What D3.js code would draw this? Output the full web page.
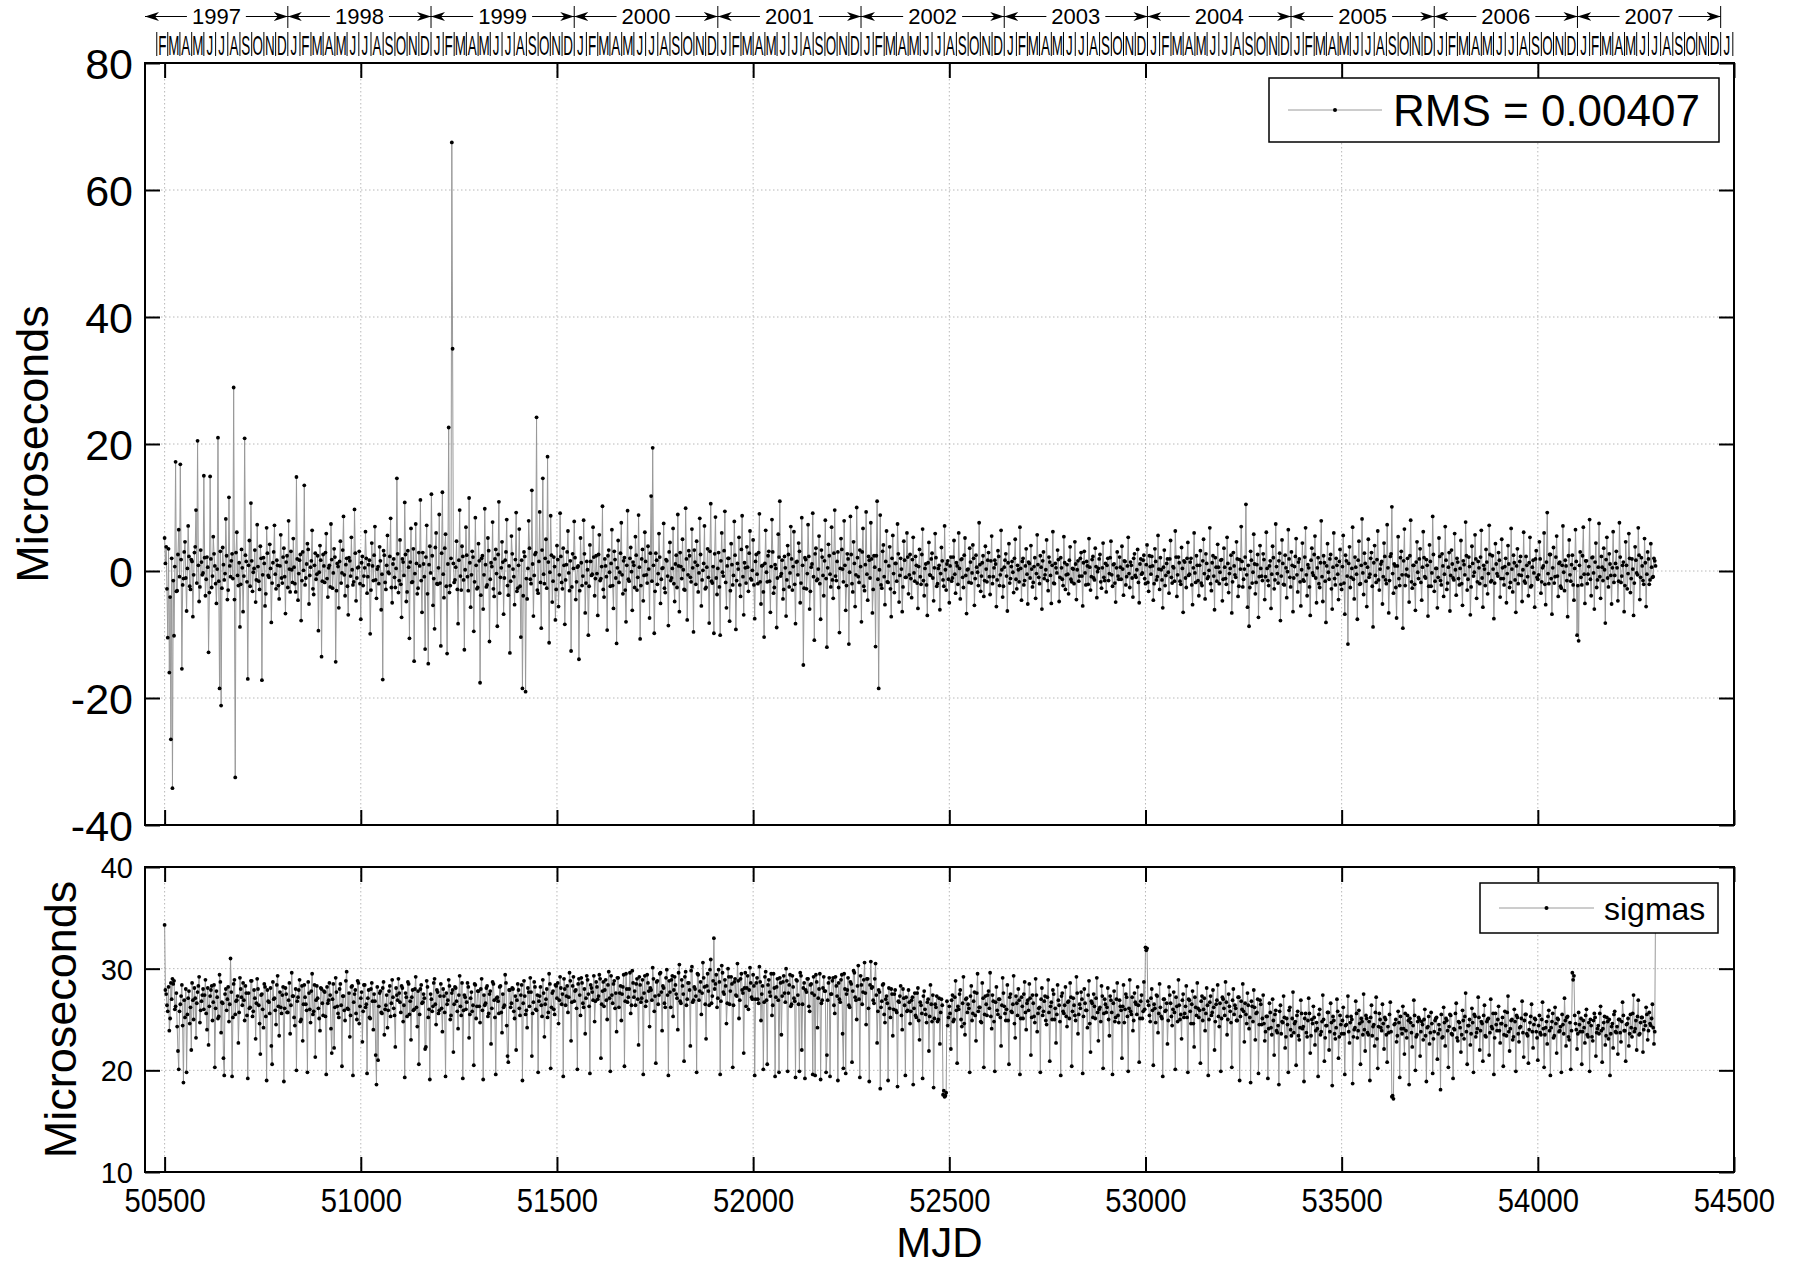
<!DOCTYPE html>
<html>
<head>
<meta charset="utf-8">
<script src="https://cdn.jsdelivr.net/npm/d3@7"></script>
<style>
  body { margin: 0; background: #fff; }
  svg { display: block; font-family: "Liberation Sans", Arial, sans-serif; }
</style>
</head>
<body>
<div id="chart"></div>
<script>
// Sampling of both series: one value every 2 days starting at MJD 50500
const mjdStart = 50500;
const mjdStep = 2;

// Timing residuals (microseconds), 50 values per 100 days
const residuals = [
  5.2,1.2,3.8,-2.8,-10.5,3.5,-16.0,-4.1,-26.5,2.0,-34.2,-1.5,-10.2,0.7,17.2,-3.2,-3.1,2.6,6.5,-0.9,16.8,1.8,-15.4,-2.2,-1.2,3.0,4.6,-1.1,-6.3,0.4,7.1,2.3,-2.4,-2.9,1.8,1.5,-7.2,-0.6,2.9,3.8,9.6,-1.9,20.5,0.9,-4.8,-2.5,3.3,1.4,-0.6,-0.3,
  15.0,2.1,-3.9,-1.3,2.2,0.6,-12.8,-3.4,14.9,1.9,-2.6,-0.8,5.4,2.7,0.8,-2.0,-5.1,0.3,21.0,-1.6,-18.5,3.1,-21.2,-2.7,3.7,1.0,-1.4,-0.4,8.2,2.4,-4.5,-3.0,11.6,0.8,-0.9,1.6,2.7,-1.2,28.9,-4.5,-32.5,2.9,6.1,-0.7,-2.3,1.3,-8.8,-2.1,3.4,0.5,
  -6.4,-0.8,20.9,2.5,1.5,-1.7,-17.0,0.9,4.8,-2.4,10.7,1.6,-3.2,-0.2,0.4,3.3,-4.9,-1.4,7.3,0.7,-1.6,-2.9,3.9,2.0,-17.2,-0.6,2.1,1.2,-5.5,-3.6,6.8,2.8,-0.7,-1.0,4.2,0.4,-8.1,-1.9,1.3,3.0,7.2,-0.5,-2.8,1.7,0.9,-2.3,-4.4,0.8,5.7,-1.1,
  -1.9,2.2,3.6,-0.9,-6.7,1.4,2.4,-2.6,7.9,0.3,-3.3,3.1,0.2,-1.8,5.1,0.6,-2.0,-3.3,14.8,1.9,-4.6,-0.4,1.7,2.6,-7.8,-1.5,3.0,0.1,13.5,-2.2,-1.1,1.1,4.3,3.4,-5.2,-0.7,0.6,1.6,6.4,-2.8,-3.7,0.9,2.8,-1.3,-0.5,2.4,-9.4,-0.2,4.0,1.7,
  -13.5,-1.6,2.6,0.8,-1.8,2.9,5.9,-1.2,-4.1,0.5,0.9,-2.5,7.4,1.8,-2.7,-0.3,3.5,2.2,-14.3,-3.1,1.2,0.7,-5.8,1.5,4.7,-1.9,-0.3,3.3,8.6,-0.6,-3.9,1.0,2.0,-2.4,-6.9,2.1,1.6,-0.8,5.3,0.2,-2.2,-1.7,9.7,2.8,-4.7,-1.1,0.5,0.6,3.1,-2.0,
  -7.6,1.3,2.3,-2.3,-0.8,0.5,6.2,2.0,-3.5,-0.9,1.0,1.7,-9.9,-3.0,4.4,0.8,-1.5,2.5,7.0,-1.4,-4.3,0.3,0.7,-2.0,3.8,1.6,-6.1,-0.5,-17.1,3.2,2.5,-1.8,-2.9,0.9,5.6,-0.2,-0.4,2.3,8.3,-2.6,-5.0,1.1,1.9,-1.0,-2.6,0.4,14.6,2.7,-3.4,-1.5,
  4.9,-2.1,-7.3,1.9,1.4,-0.7,10.8,2.6,-4.8,-3.3,3.2,0.6,-10.6,1.4,6.7,-1.8,-1.7,3.5,-14.2,-0.4,7.4,1.2,-3.6,-2.7,2.9,0.8,11.2,-1.5,-6.5,2.9,1.1,-0.9,-12.3,2.2,7.2,-3.6,-14.6,1.0,3.9,-0.3,12.1,2.4,-5.4,-1.2,-9.1,3.7,6.0,-2.0,-2.1,0.5,
  8.9,-1.9,-11.8,2.8,12.4,-0.5,-4.2,3.6,5.8,-2.4,-13.0,1.1,22.6,-3.4,-2.3,2.0,67.5,35.0,1.2,-1.8,-1.4,0.6,4.7,-2.9,-8.3,1.7,9.6,-0.8,-3.0,3.9,2.3,-1.4,-12.4,0.2,6.9,2.5,-0.9,-3.1,11.5,1.3,-5.7,-0.6,3.1,2.2,-9.5,-1.7,8.4,0.9,-2.8,-2.6,
  4.3,1.6,-17.6,-3.8,2.0,2.4,-6.0,-0.6,9.8,1.0,-2.5,-2.2,5.2,3.2,-11.1,-1.3,1.3,0.7,7.7,-2.8,-4.0,1.9,3.4,-0.4,-8.7,2.6,10.9,-3.5,-1.0,0.5,4.6,1.4,-6.8,-1.1,1.7,3.0,8.1,-2.3,-3.8,0.8,-12.9,-1.6,5.5,2.7,0.3,-0.9,-5.3,1.8,9.2,-3.2,
  -2.7,0.9,6.6,-2.4,-10.4,1.7,-18.5,-3.9,3.0,2.3,-19.0,-1.2,-4.4,0.4,7.9,3.6,-1.3,-2.0,12.7,1.1,-7.1,-0.7,2.6,2.9,24.2,-3.0,-3.5,1.5,9.3,-1.8,-9.0,3.3,14.6,-0.5,-2.0,2.0,5.0,-2.7,18.0,1.4,-11.3,-0.2,8.7,2.5,-4.9,-1.6,2.2,0.7,-7.7,-2.9,
  4.0,1.8,-5.6,-0.6,9.1,2.3,-1.8,-2.8,3.6,0.9,-8.4,-1.4,1.0,3.0,6.3,-0.3,-3.1,1.6,-12.6,-2.5,2.7,0.4,7.8,2.1,-4.5,-1.7,0.6,0.8,-13.9,-3.1,5.2,1.3,-2.3,-0.8,8.0,2.7,-6.6,-1.9,1.5,0.2,-10.1,-2.4,4.1,1.5,-0.7,-0.5,6.9,2.2,-3.9,-1.2,
  2.4,-0.4,-7.0,2.6,5.7,-1.5,-1.2,0.7,10.2,-2.9,-4.1,1.9,0.8,-0.9,-9.3,2.4,3.3,-0.2,-2.4,1.2,6.5,-2.3,-5.9,3.1,1.8,-1.1,-11.4,0.5,4.8,-1.8,-0.2,2.8,7.6,-0.6,-3.6,1.6,2.1,-3.0,-8.0,0.9,9.5,-1.3,-1.6,2.0,3.7,-0.1,-6.2,1.4,0.9,-2.6,
  5.4,2.5,-3.0,-1.0,8.8,0.6,-10.7,-2.3,1.9,3.4,-4.7,-0.7,6.1,1.5,-0.6,-1.9,3.9,0.3,-7.4,2.8,11.8,-1.6,19.4,0.9,-9.8,-3.2,2.8,1.7,-2.1,-0.4,5.9,2.2,-5.1,-1.3,0.4,0.5,7.5,-2.7,-3.4,1.8,1.6,-0.8,-8.6,3.0,4.5,-1.5,-1.1,0.4,6.7,-2.0,
  -4.8,1.1,2.5,-2.6,8.9,0.8,-6.4,2.9,0.7,-1.2,5.0,0.2,-2.9,-3.0,9.9,1.9,-7.7,-0.6,3.2,2.4,-1.0,-1.7,6.6,0.5,-9.6,3.3,1.4,-2.1,4.7,0.9,-3.3,-0.3,8.3,2.6,-5.5,-1.4,0.1,1.2,7.1,-2.8,-2.6,0.6,3.5,-1.0,-8.2,3.1,10.6,-1.6,-1.9,0.7,
  -9.8,2.7,8.5,-1.1,-3.7,0.4,2.9,-2.5,-10.1,1.6,6.0,-0.2,-0.8,3.2,9.4,-1.8,-5.8,0.8,2.0,2.0,-7.9,-3.1,4.3,1.0,-2.2,-0.7,7.8,2.5,-9.2,-1.5,1.2,0.3,5.3,-2.2,-4.0,3.4,8.7,-0.9,-6.9,1.3,0.5,-1.9,3.8,0.6,-3.2,2.8,6.3,-1.2,-1.4,0.1,
  4.9,-2.2,-7.5,1.5,2.6,-0.5,-2.0,2.9,9.0,-1.7,-5.2,0.8,0.9,-3.3,-10.4,1.2,6.4,-0.2,-1.7,2.4,3.1,-1.6,-6.5,0.7,8.1,3.0,-3.5,-2.6,1.0,0.4,-8.9,-1.1,5.8,2.2,11.0,-0.8,-0.4,1.7,-4.4,-2.9,2.3,0.5,-7.1,-1.4,4.0,2.6,-2.5,-0.3,7.0,1.9,
  -3.0,0.7,6.2,-2.1,-8.3,1.4,1.5,-0.6,4.4,3.1,-5.0,-1.9,8.4,0.9,-14.8,-2.7,2.1,1.8,-2.8,-0.4,7.3,2.3,-6.0,-3.2,0.6,1.1,9.1,-0.9,-10.9,2.7,3.6,-1.5,-1.3,0.3,5.5,-2.0,-7.6,3.3,2.2,-0.7,-3.9,1.6,8.0,-1.2,-12.0,0.5,4.2,2.4,-0.5,-2.5,
  6.9,-1.4,-4.3,2.8,9.6,-0.8,-1.5,1.5,3.0,-2.6,-9.7,0.4,5.1,3.4,0.3,-1.7,7.9,0.9,-6.2,-2.3,2.7,1.9,-11.5,-0.2,8.6,2.6,-2.0,-3.3,4.6,1.2,-5.6,-0.6,10.0,2.1,-0.9,-1.8,3.3,0.7,-8.0,3.0,6.7,-2.4,-3.1,1.0,9.3,-0.5,-4.6,2.3,1.7,-1.1,
  7.6,1.9,-6.6,-2.9,2.4,0.6,-11.9,2.4,11.0,-1.3,-18.5,0.2,8.8,-2.2,-2.7,3.1,4.1,-0.9,-5.3,1.5,6.3,-1.7,-1.8,0.8,3.8,-2.8,-7.2,2.0,5.6,-0.4,-3.4,1.2,1.2,-1.6,7.4,2.7,-4.9,-0.7,2.0,0.3,-6.4,-2.5,4.7,1.7,-1.0,-1.0,6.0,2.2,-3.6,-0.6,
  2.6,-1.2,-4.2,1.8,5.3,-0.3,-1.6,2.3,0.9,-1.9,-5.9,0.7,3.4,-0.9,-2.1,2.6,6.6,-1.5,-3.9,0.4,1.1,-2.2,-7.0,1.3,4.5,-0.6,-0.7,1.9,2.8,-1.1,-4.7,0.5,5.9,2.1,-2.4,-2.0,0.4,0.9,-6.1,-0.4,3.7,1.6,-1.4,-2.4,7.1,0.2,-3.0,1.1,1.6,-1.3,
  -5.0,0.8,2.2,-1.6,-1.1,2.2,4.8,-0.5,-3.5,1.3,0.8,-2.1,6.0,0.4,-4.4,1.8,1.9,-1.0,-2.6,2.5,5.2,-0.7,-6.7,0.2,0.3,-1.8,3.6,1.4,-1.9,-0.3,4.1,2.0,-5.4,-1.2,2.5,0.6,-0.2,-2.3,7.6,1.0,-3.2,-0.8,1.3,2.4,-4.0,-1.5,3.9,0.3,-1.7,1.7,
  2.9,-0.9,-3.7,1.6,5.5,-2.0,-0.9,0.5,1.7,1.1,-5.6,-1.4,3.2,2.3,-2.3,-0.6,6.4,0.2,-4.1,-2.4,0.6,1.7,2.7,-0.8,-6.3,1.3,4.3,-1.9,-1.2,0.7,1.5,-0.2,-3.4,2.0,5.0,-1.3,-2.8,0.9,0.2,-1.7,6.9,0.4,-4.6,1.5,2.0,-2.2,-1.5,0.8,3.5,-0.5,
  -5.2,1.4,1.2,-1.1,4.0,0.3,-2.5,-1.8,0.7,2.1,-4.3,-0.4,5.7,1.0,-1.0,-2.0,2.4,0.6,-6.0,1.6,3.0,-1.2,-0.6,0.2,4.9,-1.5,-3.1,2.2,1.4,-0.7,-5.1,0.9,6.2,-1.9,-2.0,1.2,0.5,-0.3,3.3,1.8,-4.8,-1.0,2.1,0.5,-1.3,-2.3,5.4,1.3,-2.9,-0.6,
  1.0,-0.5,-3.6,1.7,3.8,-1.3,-1.7,0.4,0.3,-2.0,4.6,1.1,-4.5,0.2,1.6,-1.6,-0.8,2.0,2.9,-0.8,-5.5,1.3,3.1,-0.3,-2.2,1.5,0.8,-2.1,5.1,0.6,-3.0,-0.9,1.8,2.3,-1.1,-1.4,3.6,0.7,-4.2,-0.1,0.4,1.9,2.6,-1.7,-2.7,0.5,4.4,-1.0,-1.5,1.2,
  -3.3,0.9,2.0,-1.5,-0.4,2.1,4.7,-0.6,-2.4,1.0,1.1,-1.9,-4.9,0.5,3.0,-0.8,-1.3,2.2,0.6,-1.3,3.9,0.3,-3.8,1.6,1.5,-2.2,-0.9,0.8,5.3,-0.4,-2.6,1.4,0.9,-1.1,-4.1,2.0,2.7,-0.7,-1.0,0.2,3.4,-1.8,-5.0,1.1,1.9,-0.5,-0.3,1.7,2.5,-1.2,
  -2.0,1.0,4.1,-1.8,-3.2,2.4,0.7,-0.5,2.3,0.8,-4.6,-2.0,3.5,1.5,-1.4,-0.9,5.6,0.3,-2.9,2.1,0.2,-1.4,-5.8,0.6,3.3,-2.3,-0.7,1.2,1.9,-0.2,-3.5,1.9,4.8,-1.0,-1.9,0.7,0.5,-1.6,6.3,2.2,-4.0,-0.6,2.2,1.3,-1.6,-2.1,3.7,0.4,-6.5,1.6,
  1.4,-1.1,-2.6,2.0,4.5,-0.7,-0.5,1.4,2.0,-2.2,-5.3,0.5,6.0,-0.3,-1.8,2.4,0.9,-1.5,-3.9,0.9,3.2,-1.9,-2.3,1.6,5.0,-0.4,-4.4,2.7,1.2,-1.2,-0.9,0.1,6.8,-2.0,-3.1,1.3,2.4,-0.8,-6.1,2.1,0.6,-1.6,4.2,0.6,-2.0,-0.2,1.7,1.8,-4.7,-1.3,
  3.6,0.6,-1.2,-2.1,5.3,1.2,-3.4,-0.4,0.4,2.5,-6.6,-1.7,2.9,0.8,-0.6,-1.0,4.6,1.9,-4.0,-2.4,1.8,0.3,7.0,1.5,-2.5,-1.3,0.3,2.2,10.5,-0.6,-5.7,0.9,-8.7,-2.6,3.1,1.7,-1.9,-0.2,5.8,1.1,-3.6,-1.8,1.0,2.6,-7.3,-0.9,4.0,0.4,-0.8,-1.5,
  2.7,1.8,-4.5,-0.9,6.1,0.4,-1.5,-2.3,0.8,1.6,-5.9,-0.5,3.9,2.1,-2.8,-1.4,7.4,0.7,-0.4,-1.9,1.6,2.8,-7.8,-0.8,4.9,1.2,-2.1,-2.2,2.5,0.5,-4.2,-0.1,6.5,1.9,-1.0,-2.5,3.0,0.9,-6.4,-1.1,0.7,2.3,5.1,-0.6,-3.3,1.4,1.9,-1.7,-5.5,0.2,
  4.4,-1.4,-1.6,2.2,6.8,-0.6,-3.9,1.0,0.5,-2.5,-7.0,1.7,3.6,-0.3,-0.7,2.6,5.5,-1.1,-5.0,0.5,2.1,-2.0,-2.6,1.3,7.9,-0.9,-4.8,2.4,1.3,-1.6,-8.1,0.8,4.3,-0.2,-1.3,1.9,2.6,-2.8,-6.0,0.6,6.0,-1.2,-2.2,2.0,0.9,-0.5,-4.5,1.5,3.4,-2.1,
  -2.9,0.7,5.6,-1.9,-6.8,2.5,1.6,-0.8,-11.5,1.2,3.8,-2.6,-1.0,0.4,6.9,-1.3,-4.4,2.2,0.6,-0.5,-7.6,1.7,4.7,-2.1,-2.0,0.9,8.2,-0.3,-3.7,2.8,1.2,-1.6,-5.6,0.6,5.0,-1.0,-0.5,2.0,2.9,-2.4,-8.8,1.3,4.0,-0.7,-1.8,1.8,6.3,-1.4,-3.0,0.3,
  1.1,1.5,-5.2,-0.9,4.4,2.3,-1.4,-2.0,7.3,0.5,-6.6,-1.5,2.3,2.7,10.1,-0.4,-3.5,1.1,0.8,-2.6,-7.4,0.8,5.4,-1.2,-2.3,2.1,3.1,-0.6,-9.0,1.6,6.6,-2.3,-0.6,0.3,2.0,-0.8,-4.9,2.4,8.0,-1.7,-2.7,0.9,0.9,-2.1,-6.2,1.4,4.6,-0.2,-1.2,1.9,
  3.5,-1.8,-4.6,0.6,6.2,2.1,-0.9,-1.1,1.8,0.9,-7.1,-2.4,4.1,1.5,-2.4,-0.3,8.6,2.6,-3.2,-1.6,0.4,0.4,-5.8,-1.0,5.2,2.3,-1.5,-2.2,2.7,0.8,-4.0,-0.5,7.0,1.7,-2.9,-1.9,0.6,2.9,-6.3,-0.7,3.3,1.1,-1.1,-1.4,5.9,0.2,-3.8,2.0,1.4,-1.2,
  -2.2,0.4,4.8,-2.0,-5.4,1.6,1.0,-0.6,7.7,2.4,-3.0,-1.3,2.2,0.7,-6.9,-2.5,3.9,1.2,-0.8,-0.2,5.7,1.9,-4.3,-1.7,1.5,0.5,-2.0,2.2,6.4,-1.1,-5.7,0.9,0.3,-2.3,3.4,1.4,-3.6,-0.4,7.2,2.6,-1.7,-1.5,2.4,0.3,-7.5,-1.9,4.3,1.1,-0.4,-0.8,
  2.9,1.7,-4.1,-1.2,5.0,0.5,-1.2,-2.2,0.7,2.0,-5.0,-0.4,4.0,1.1,-2.6,-1.8,6.7,0.3,-3.3,2.5,1.3,-1.4,-6.5,0.8,3.5,-2.0,-0.6,1.5,2.3,-0.7,-4.8,0.2,6.1,-1.6,-1.9,2.3,0.9,-0.9,-3.9,1.3,5.3,-2.5,-2.3,0.6,1.7,-0.3,-5.7,1.9,3.2,-1.0,
  -1.3,-0.6,4.6,1.9,-3.5,-1.7,0.5,0.8,6.0,-2.1,-5.3,1.4,9.2,-0.4,-2.0,2.6,2.6,-1.2,-6.8,0.5,3.7,-1.9,-0.9,2.2,5.5,-0.8,-4.0,1.2,1.4,-2.4,-2.7,0.9,7.1,-0.2,-3.1,1.7,0.8,-1.5,-7.2,2.4,4.9,-0.6,-1.6,1.0,2.5,-2.2,-4.6,0.4,6.5,1.5,
  -10.1,-2.3,-11.0,0.9,3.0,-1.0,-2.2,2.4,6.9,-0.5,-5.1,1.6,1.6,-2.0,-0.5,0.7,8.1,-1.3,-3.9,2.1,2.2,-0.3,-6.0,1.4,4.4,-2.6,-1.4,0.6,7.5,-0.9,-4.3,2.3,0.6,-1.5,3.6,0.2,-8.2,1.8,5.3,-1.1,-2.5,2.7,1.1,-0.7,-5.2,0.5,6.2,-1.8,-0.7,1.2,
  3.1,0.5,-4.7,-1.6,7.6,2.2,-1.8,-0.8,0.9,1.4,-6.4,-2.3,4.6,0.9,-2.8,-0.4,5.9,2.0,-3.4,-1.2,1.9,0.3,-7.0,-1.9,3.8,1.7,-0.3,-0.6,6.8,2.5,-4.5,-1.0,2.1,0.8,-1.5,-2.1,5.1,1.3,-5.6,-0.5,3.0,1.9,-2.1,-1.4,4.3,0.6,-1.0,-0.9,2.0,1.6,
  0.8
];

// Formal uncertainties (microseconds)
const sigmas = [
  34.3,27.9,27.5,26.4,25.8,28.2,23.9,25.1,28.6,27.0,29.0,28.5,28.8,26.0,26.3,27.6,24.3,21.9,20.1,25.8,26.5,27.3,28.4,24.4,18.8,26.9,25.2,28.0,19.8,25.5,27.1,27.8,24.6,26.2,22.0,28.6,26.9,25.0,28.1,27.1,23.2,26.6,27.7,28.3,29.2,24.7,25.9,26.8,27.4,28.0,
  26.0,27.4,28.9,25.6,24.0,28.1,22.5,26.3,27.3,27.9,28.3,24.9,26.7,28.4,20.3,26.1,27.8,27.2,25.1,25.3,29.4,28.7,23.7,26.7,26.6,21.2,19.5,27.5,28.0,25.9,27.0,28.2,24.8,26.5,31.0,27.7,19.4,25.2,28.5,28.9,25.5,26.8,26.9,27.3,22.7,25.7,29.1,28.0,27.2,26.4,
  28.6,26.9,24.9,28.3,27.6,25.4,19.2,27.6,26.1,26.2,28.8,28.8,25.3,25.8,27.9,27.1,23.1,26.6,29.0,28.0,26.4,24.6,21.6,27.4,27.5,26.0,24.2,28.5,28.2,25.3,19.0,27.9,26.8,26.7,25.6,28.1,22.4,20.6,28.7,27.0,27.1,25.9,24.5,28.4,29.3,26.3,23.4,27.7,26.2,25.6,
  27.4,28.2,18.9,26.1,28.1,27.5,25.7,25.7,26.9,28.6,23.6,26.4,29.6,27.3,27.3,25.2,24.4,28.0,20.0,26.8,27.2,27.9,28.9,24.8,25.0,28.3,22.9,26.5,28.4,27.2,26.5,25.9,19.8,28.7,27.6,26.0,24.7,27.8,29.5,25.5,25.8,28.4,21.3,26.9,28.3,27.1,26.1,25.1,23.9,28.1,
  28.0,26.6,25.4,27.8,27.7,25.3,19.6,28.2,26.6,26.9,28.6,27.4,24.1,21.7,27.0,28.5,22.2,26.2,29.1,27.7,26.3,25.6,25.2,28.0,28.5,26.4,20.4,27.3,27.3,25.9,24.9,28.8,29.7,26.1,26.0,27.6,23.3,25.4,28.2,28.3,19.5,26.7,27.5,27.9,25.6,25.0,28.8,28.6,24.6,26.3,
  27.1,27.7,22.8,25.8,28.4,28.4,26.2,26.5,19.7,27.1,27.9,25.2,25.1,28.0,28.6,26.8,24.0,27.5,26.8,21.5,18.6,28.2,21.0,26.3,27.6,27.8,25.7,25.6,28.1,28.7,23.5,26.0,26.4,27.4,24.2,25.9,27.8,28.3,25.3,26.6,28.9,27.2,26.1,25.4,22.3,28.1,27.4,26.9,29.0,27.6,
  26.7,25.7,28.3,28.1,24.8,26.4,19.3,27.6,27.2,25.3,28.7,28.5,25.5,26.8,23.0,27.2,27.9,25.9,26.0,28.0,29.2,26.2,24.3,27.8,20.6,25.5,28.0,28.4,26.6,26.7,27.5,27.1,22.1,22.3,28.8,28.2,25.2,26.0,19.1,27.5,27.0,25.8,26.3,28.6,29.0,26.5,24.5,27.9,27.7,25.6,
  25.9,27.3,28.5,26.1,23.8,28.0,27.3,25.7,19.4,27.6,26.5,26.9,28.9,28.3,25.0,25.4,27.6,27.9,21.8,26.5,28.2,28.1,26.8,25.8,24.1,27.4,29.3,26.3,25.4,28.6,19.2,25.9,27.4,27.2,26.0,26.7,28.6,28.2,23.2,25.5,27.1,27.7,25.8,26.4,20.5,28.5,28.4,25.1,26.3,27.8,
  27.8,26.3,24.7,28.0,29.0,25.9,19.1,27.4,26.4,26.6,28.1,28.3,25.3,25.6,27.5,27.8,22.6,26.1,28.7,28.5,26.9,25.2,19.6,27.1,27.2,26.8,25.6,28.2,28.3,25.7,23.7,27.5,26.2,26.4,29.4,28.6,24.4,21.4,20.8,27.9,27.9,26.2,26.6,28.1,28.0,25.8,25.1,27.3,22.0,26.9,
  28.5,27.9,26.1,25.4,27.4,28.4,19.0,26.6,28.8,27.3,25.5,25.9,24.2,28.1,27.7,26.3,29.1,27.7,21.4,25.6,26.7,28.7,28.2,26.0,25.9,27.4,19.8,26.8,27.3,28.2,26.4,25.3,28.9,27.6,23.3,26.5,27.0,28.0,25.2,25.7,29.5,28.5,20.2,26.2,27.6,27.8,26.0,25.5,28.4,28.3,
  27.1,28.6,24.6,26.9,29.2,28.1,26.5,27.5,19.4,29.0,28.0,26.4,27.3,28.3,25.7,27.2,29.6,28.8,22.9,26.7,28.3,29.2,26.8,27.8,27.9,26.1,20.1,28.5,29.0,27.4,25.4,29.1,28.6,26.6,26.2,28.0,23.6,27.1,29.3,28.9,27.5,26.3,19.7,28.4,28.1,27.7,26.9,29.3,24.8,26.8,
  28.7,28.2,27.0,27.3,29.4,29.0,21.2,26.5,27.8,28.7,26.3,27.9,28.9,26.9,25.0,28.4,29.7,27.1,19.9,29.3,27.4,26.6,28.5,28.8,26.1,27.6,23.8,29.1,29.1,26.2,27.6,28.3,24.9,27.5,28.2,29.4,20.4,26.8,29.5,28.0,26.7,27.2,28.0,29.6,25.6,26.4,29.8,28.6,27.2,27.8,
  26.4,28.5,29.0,27.0,22.5,29.2,28.4,26.7,27.1,28.9,19.6,27.6,29.3,26.3,26.8,29.4,28.6,27.8,24.3,28.1,27.9,26.9,30.1,29.0,25.8,27.3,20.7,28.7,28.8,26.5,27.4,29.5,29.6,27.7,23.9,28.3,28.1,26.6,26.2,29.1,29.9,27.4,19.5,28.8,27.7,26.2,28.9,29.3,25.3,27.9,
  29.2,28.4,27.5,27.1,24.0,29.6,30.4,26.8,26.6,28.9,28.3,27.5,20.9,29.2,29.7,26.4,27.0,28.6,28.6,27.9,22.4,29.8,30.2,26.7,26.9,28.2,28.0,27.3,19.8,29.5,29.4,26.9,27.8,28.7,25.5,27.6,30.6,29.1,28.2,26.5,23.1,28.3,29.5,27.8,26.4,29.9,30.9,26.6,27.3,28.8,
  33.0,28.0,28.5,29.4,26.2,27.1,29.9,28.7,19.6,26.8,30.3,29.6,27.7,27.5,28.9,28.3,24.6,26.6,30.0,29.2,26.5,27.8,29.2,28.5,20.3,26.4,28.7,29.0,27.4,27.3,30.5,28.8,25.1,26.9,29.0,29.5,27.9,27.6,21.7,28.1,29.6,26.3,28.1,29.3,26.0,27.9,30.1,28.6,27.2,27.0,
  29.4,28.3,19.5,27.0,28.6,29.1,27.0,26.6,30.2,28.7,24.9,27.5,28.3,20.1,26.7,29.2,29.7,26.9,20.6,28.4,28.9,27.7,27.3,29.5,25.4,26.4,29.5,28.1,19.4,27.2,28.2,29.0,26.9,19.8,29.1,28.6,23.5,27.3,28.7,29.3,27.6,26.7,30.0,28.8,19.9,27.6,28.4,29.4,26.3,26.5,
  29.3,28.2,27.1,26.8,19.3,28.9,28.8,27.4,26.5,19.9,29.6,29.3,22.0,26.5,28.1,28.6,19.2,27.9,27.7,29.0,29.0,26.3,25.8,28.4,28.5,27.6,19.6,29.2,27.4,19.5,29.4,28.7,24.2,27.1,28.0,29.5,19.1,26.6,26.9,28.1,29.2,27.8,27.8,19.8,21.5,26.9,28.6,29.1,19.4,27.5,
  27.5,28.8,29.1,26.4,25.6,29.2,28.3,27.3,19.0,28.6,27.0,26.7,28.9,29.4,23.6,20.2,29.5,28.0,19.7,27.5,27.9,29.1,26.4,26.2,28.7,28.5,20.8,27.8,29.8,29.6,27.2,26.9,25.0,28.3,30.3,27.0,19.3,29.3,28.4,26.5,27.7,28.9,30.6,27.6,24.5,29.0,29.0,26.1,18.9,28.4,
  30.7,28.1,28.2,26.9,26.6,29.0,30.5,27.4,22.7,25.8,27.9,27.7,18.2,26.2,26.8,28.4,28.5,25.5,24.7,27.0,27.3,26.6,19.0,28.1,26.1,25.2,28.0,27.5,23.4,26.0,27.5,27.9,25.9,25.7,18.4,26.8,26.7,27.3,28.3,25.4,24.0,28.0,27.1,26.4,19.5,27.2,25.8,25.9,27.9,26.7,
  24.6,25.8,26.9,27.2,18.6,26.1,27.6,25.4,25.2,27.6,28.1,24.9,23.0,26.7,26.4,25.6,19.2,27.3,27.8,26.0,25.5,24.7,26.7,27.0,21.9,25.3,28.4,26.5,24.8,27.4,18.3,25.1,26.5,26.2,27.3,24.8,25.0,27.1,22.6,25.7,27.0,26.4,17.6,18.0,17.4,17.5,17.8,26.8,24.4,25.2,
  26.3,25.6,22.1,26.9,27.4,24.8,25.0,27.2,28.8,25.9,20.7,26.3,26.0,27.5,27.9,25.0,24.3,26.6,29.2,24.6,23.5,27.0,27.1,25.7,26.5,26.1,19.8,27.3,28.3,24.9,25.6,26.8,27.7,25.4,22.9,27.6,29.5,25.8,26.2,26.2,24.8,24.7,28.6,27.1,20.3,25.5,27.3,26.5,25.4,27.4,
  27.8,26.1,29.6,25.3,24.1,27.4,26.8,24.8,19.9,26.7,28.2,25.9,25.5,27.0,27.0,25.2,22.4,26.4,29.1,27.6,26.3,25.6,24.9,26.0,28.4,24.9,20.6,27.2,27.5,25.8,25.7,26.5,29.3,24.6,23.2,27.3,26.6,25.4,28.0,26.9,19.6,25.1,27.2,26.3,25.1,27.5,28.7,25.7,24.0,26.6,
  26.9,25.9,28.5,27.1,21.5,25.2,27.4,26.6,25.3,24.7,29.0,27.4,23.8,25.6,26.1,26.2,19.8,27.0,28.1,25.4,25.8,26.8,27.3,24.9,24.5,27.2,28.9,25.7,20.9,26.3,26.7,25.0,27.9,27.5,25.0,26.1,22.7,25.5,28.4,26.9,26.4,24.8,19.5,27.3,27.6,25.8,25.6,26.4,28.2,25.3,
  24.3,26.7,26.8,25.1,28.6,27.2,20.4,25.8,27.1,26.4,25.4,24.9,29.2,27.6,23.6,25.5,26.5,26.1,27.7,27.0,19.7,25.3,28.0,26.6,25.9,25.9,24.2,27.4,28.8,24.6,21.8,26.8,26.6,25.2,27.5,26.3,25.1,27.1,29.1,25.7,22.9,26.0,26.2,24.8,28.3,27.3,20.2,25.6,27.0,26.5,
  25.7,26.2,28.1,25.0,23.4,27.3,26.9,25.7,19.6,26.6,27.8,24.8,25.2,27.0,28.6,25.4,24.7,26.9,26.3,25.9,21.2,26.3,28.4,24.7,26.0,27.5,27.2,25.3,19.9,26.1,28.9,25.8,25.5,27.2,23.9,24.9,27.6,26.7,26.5,25.5,28.2,26.4,20.8,25.1,26.8,27.4,25.1,25.8,28.7,26.0,
  32.1,31.8,32.0,26.8,26.4,25.4,24.8,27.1,28.0,25.9,20.5,26.5,26.1,24.7,27.4,27.3,23.7,25.6,28.5,26.2,25.3,25.1,19.4,27.0,27.0,25.8,25.9,26.6,22.6,24.9,28.2,27.4,26.6,25.3,24.4,26.0,27.7,25.7,20.1,27.2,26.3,24.8,28.9,26.4,25.0,25.5,23.1,26.9,27.5,25.2,
  25.6,26.3,28.3,25.2,19.8,27.0,26.9,25.8,24.6,26.5,27.8,24.6,22.3,27.2,26.2,25.4,28.6,26.1,25.2,25.9,20.7,26.8,27.3,24.9,26.0,27.1,23.9,25.6,28.1,26.4,19.5,25.0,26.7,27.3,25.4,25.7,27.9,26.2,22.0,24.8,26.5,26.9,28.4,25.3,24.3,26.6,19.9,25.1,27.2,27.0,
  26.1,25.4,28.7,26.7,23.5,25.0,27.5,26.3,25.8,24.7,20.3,26.9,28.0,25.5,26.4,26.1,24.9,24.9,27.2,27.2,19.0,25.3,26.8,26.0,28.5,25.8,22.8,26.6,25.5,24.6,27.6,26.4,24.1,25.2,18.8,26.8,26.3,24.8,27.9,26.2,23.0,25.6,25.7,27.0,19.7,24.5,26.9,26.5,24.5,25.1,
  27.4,24.6,22.9,23.8,25.3,25.3,19.2,24.1,26.6,25.7,24.2,23.5,27.0,24.9,21.5,25.5,25.9,23.9,23.7,24.4,18.6,25.8,26.4,23.6,24.8,24.7,27.3,25.2,22.2,23.3,25.1,24.5,19.8,25.9,26.2,24.0,23.4,25.1,27.7,23.7,24.6,24.8,20.5,25.4,25.8,23.4,23.0,24.2,26.9,25.6,
  24.1,24.3,18.9,25.1,25.6,23.7,23.3,24.9,27.1,25.6,21.7,23.4,25.0,24.6,26.3,25.2,22.5,23.9,24.7,24.1,19.4,25.5,26.0,23.5,23.8,24.8,27.4,25.0,20.9,23.2,24.4,24.4,25.7,25.7,22.0,23.8,26.6,24.7,18.5,25.3,24.9,23.6,23.1,24.2,27.0,25.8,21.2,23.3,25.4,24.5,
  23.6,24.9,26.2,23.6,19.6,24.4,24.5,25.3,27.3,23.8,22.7,24.7,25.3,25.0,18.7,23.3,24.0,24.2,26.8,25.6,23.2,23.9,25.9,24.6,20.6,25.1,24.8,23.5,27.5,24.0,21.9,25.4,25.1,23.7,23.5,24.8,19.0,25.2,26.4,23.4,24.3,24.5,22.4,25.7,27.2,23.1,20.2,24.3,25.6,25.0,
  24.2,23.9,26.5,24.6,22.1,25.2,25.0,23.5,20.8,24.3,23.7,25.5,26.7,23.8,17.4,17.5,17.2,24.5,24.6,25.0,22.8,23.4,25.8,24.7,19.3,25.3,24.1,23.6,26.3,24.1,21.6,25.6,23.9,23.2,25.4,24.9,18.6,25.1,24.7,23.7,22.3,24.4,26.9,25.4,20.0,23.3,23.5,24.8,25.2,25.0,
  21.4,23.8,24.8,24.5,23.0,25.0,26.0,23.4,18.9,24.2,24.3,25.3,22.6,23.7,25.7,24.6,19.7,23.1,23.8,24.9,25.1,25.2,21.1,23.6,24.5,24.0,18.1,25.5,23.2,23.3,26.2,24.7,22.4,25.1,24.9,23.9,20.3,24.3,25.5,25.4,23.6,23.5,19.2,24.1,24.0,25.6,26.6,23.2,22.9,24.8,
  24.7,24.2,21.8,23.5,25.9,24.9,23.1,25.3,27.6,23.8,20.6,24.4,24.4,25.0,22.5,23.6,26.1,24.7,19.8,25.5,25.3,23.3,23.7,24.1,27.2,25.2,22.0,23.9,24.8,24.6,20.9,25.4,26.4,23.4,23.3,24.8,25.0,25.1,21.5,23.7,27.0,24.3,24.1,25.6,19.6,23.2,25.6,24.5,23.9,25.0,
  26.3,23.9,22.7,24.6,24.6,25.2,20.4,23.5,25.8,24.4,23.4,25.7,27.3,23.8,21.9,24.1,24.9,25.0,23.0,23.3,26.0,24.8,19.9,25.4,25.2,23.6,22.8,24.2,24.3,25.1,26.8,23.7,21.3,24.9,25.5,25.5,23.6,23.4,20.7,24.0,24.7,25.3,26.5,23.8,22.2,24.5,25.1,25.0,23.8,23.2,
  21.0,24.4,25.4,23.7,23.5,25.0,26.7,24.1,20.3,23.5,24.2,24.8,22.6,25.3,25.9,23.9,19.5,24.2,24.8,25.6,23.2,23.4,26.2,24.6,21.7,25.1,25.0,23.8,23.9,24.3,19.8,25.5,24.5,23.6,27.1,24.9,22.4,25.2,25.3,23.3,23.0,24.7,20.1,23.9,29.6,28.9,29.3,25.4,24.6,24.0,
  22.1,23.6,25.7,24.5,23.8,25.1,20.6,23.8,24.9,24.2,22.7,25.4,26.0,23.5,23.3,24.7,19.9,25.0,24.4,23.3,22.9,24.9,25.6,25.2,21.4,23.7,24.1,24.4,23.6,25.6,26.3,23.9,20.8,24.1,24.7,25.3,22.5,23.4,25.2,24.8,23.1,25.0,19.5,23.6,24.3,24.6,22.2,25.5,25.8,23.8,
  23.7,24.3,21.6,25.0,25.0,23.7,22.8,24.8,26.7,25.4,23.9,23.9,20.9,24.5,24.6,25.1,22.4,23.6,25.5,24.2,23.3,25.6,27.4,23.8,24.1,24.9,22.0,25.3,26.9,23.5,23.6,24.7,25.2,25.2,21.8,24.0,24.8,24.4,26.2,25.5,23.0,23.9,25.7,24.6,24.4,25.1,26.5,24.2,22.6,23.8,
  36.0
];

const xTicks = [50500, 51000, 51500, 52000, 52500, 53000, 53500, 54000, 54500];
const topYTicks = [-40, -20, 0, 20, 40, 60, 80];
const bottomYTicks = [10, 20, 30, 40];
const yearLabels = [1997, 1998, 1999, 2000, 2001, 2002, 2003, 2004, 2005, 2006, 2007];
const calendarYears = [1997, 1998, 1999, 2000, 2001, 2002, 2003, 2004, 2005, 2006, 2007, 2008];
const monthLetters = ["J", "F", "M", "A", "M", "J", "J", "A", "S", "O", "N", "D"];
const rmsLabel = "RMS = 0.00407";
const sigmaLabel = "sigmas";

const W = 1801, H = 1267;
const svg = d3.select("#chart").append("svg").attr("width", W).attr("height", H);

const x = d3.scaleLinear().domain([50450, 54500]).range([145, 1734]);
const yTop = d3.scaleLinear().domain([-40, 80]).range([825, 63]);
const yBot = d3.scaleLinear().domain([10, 40]).range([1172, 867]);

const toMjd = (yr, mo) => Date.UTC(yr, mo, 1) / 86400000 + 40587;

// arrow head used by the year spans
svg.append("defs").append("marker")
    .attr("id", "arrow")
    .attr("viewBox", "0 0 14 9")
    .attr("refX", 14).attr("refY", 4.5)
    .attr("markerWidth", 14).attr("markerHeight", 9)
    .attr("markerUnits", "userSpaceOnUse")
    .attr("orient", "auto")
    .append("path")
    .attr("d", "M0,0 L14,4.5 L0,9 L4,4.5 Z")
    .attr("fill", "#000");

function styleAxis(sel, size) {
    sel.select(".domain").remove();
    sel.attr("font-family", null).attr("font-size", size);
    sel.selectAll(".tick line").attr("stroke", "#000").attr("stroke-width", 2);
    sel.selectAll(".tick text").attr("fill", "#000");
}

function drawPanel(p) {
    const y = p.y;
    const top = y.range()[1], bottom = y.range()[0];
    const left = x.range()[0], right = x.range()[1];
    const g = svg.append("g");

    // dotted grid
    g.append("g").selectAll("line")
        .data(xTicks.filter(t => x(t) > left + 1 && x(t) < right - 1))
        .join("line")
        .attr("x1", d => x(d)).attr("x2", d => x(d))
        .attr("y1", top).attr("y2", bottom)
        .attr("stroke", "#b8b8b8").attr("stroke-dasharray", "1.5,2.5");
    g.append("g").selectAll("line")
        .data(p.ticks.filter(t => y(t) > top + 1 && y(t) < bottom - 1))
        .join("line")
        .attr("x1", left).attr("x2", right)
        .attr("y1", d => y(d)).attr("y2", d => y(d))
        .attr("stroke", "#b8b8b8").attr("stroke-dasharray", "1.5,2.5");

    // data: thin grey line with black dots
    const pts = p.values.map((v, i) => [mjdStart + i * mjdStep, v]);
    g.append("path")
        .datum(pts)
        .attr("fill", "none")
        .attr("stroke", "#999")
        .attr("stroke-width", 1)
        .attr("d", d3.line().x(d => x(d[0])).y(d => y(d[1])));
    g.append("g").selectAll("circle")
        .data(pts)
        .join("circle")
        .attr("cx", d => x(d[0]))
        .attr("cy", d => y(d[1]))
        .attr("r", 1.9)
        .attr("fill", "#000");

    // axes, ticks pointing inwards on all four sides
    const aLeft = g.append("g").attr("transform", `translate(${left},0)`)
        .call(d3.axisLeft(y).tickValues(p.ticks).tickSizeInner(-15).tickSizeOuter(0)
            .tickPadding(12).tickFormat(d => String(d)));
    styleAxis(aLeft, p.tickSize);
    aLeft.selectAll(".tick text").attr("dy", "0.36em");

    const aRight = g.append("g").attr("transform", `translate(${right},0)`)
        .call(d3.axisRight(y).tickValues(p.ticks).tickSizeInner(-15).tickSizeOuter(0).tickFormat(""));
    styleAxis(aRight, 10);

    const aTop = g.append("g").attr("transform", `translate(0,${top})`)
        .call(d3.axisTop(x).tickValues(xTicks).tickSizeInner(-15).tickSizeOuter(0).tickFormat(""));
    styleAxis(aTop, 10);

    const aBottom = g.append("g").attr("transform", `translate(0,${bottom})`)
        .call(d3.axisBottom(x).tickValues(xTicks).tickSizeInner(-15).tickSizeOuter(0)
            .tickPadding(16).tickFormat(p.xLabels ? d => String(d) : ""));
    styleAxis(aBottom, 34);
    aBottom.selectAll(".tick text").attr("transform", "scale(0.86,1)");

    // frame
    g.append("rect")
        .attr("x", left).attr("y", top)
        .attr("width", right - left).attr("height", bottom - top)
        .attr("fill", "none").attr("stroke", "#000").attr("stroke-width", 2);

    // y label
    g.append("text")
        .attr("transform", `translate(${p.labelX},${(top + bottom) / 2}) rotate(-90)`)
        .attr("text-anchor", "middle")
        .attr("font-size", 45)
        .text("Microseconds");

    // legend
    const L = p.legend;
    const lg = g.append("g");
    lg.append("rect")
        .attr("x", L.x).attr("y", L.y).attr("width", L.w).attr("height", L.h)
        .attr("fill", "#fff").attr("stroke", "#000").attr("stroke-width", 1.5);
    lg.append("line")
        .attr("x1", L.x + L.lineFrom).attr("x2", L.x + L.lineTo)
        .attr("y1", L.y + L.h / 2).attr("y2", L.y + L.h / 2)
        .attr("stroke", "#9a9a9a").attr("stroke-width", 1);
    lg.append("circle")
        .attr("cx", L.x + (L.lineFrom + L.lineTo) / 2).attr("cy", L.y + L.h / 2)
        .attr("r", 2).attr("fill", "#000");
    lg.append("text")
        .attr("x", L.x + L.textX).attr("y", L.y + L.h / 2)
        .attr("dy", "0.36em")
        .attr("font-size", L.fontSize)
        .text(L.text);
}

drawPanel({
    y: yTop, ticks: topYTicks, values: residuals, tickSize: 43, xLabels: false, labelX: 48,
    legend: { x: 1269, y: 78, w: 450, h: 64, lineFrom: 19, lineTo: 113, textX: 124, fontSize: 44, text: rmsLabel }
});
drawPanel({
    y: yBot, ticks: bottomYTicks, values: sigmas, tickSize: 29, xLabels: true, labelX: 76,
    legend: { x: 1480, y: 883, w: 238, h: 50, lineFrom: 19, lineTo: 114, textX: 124, fontSize: 32, text: sigmaLabel }
});

// x axis title
svg.append("text")
    .attr("x", (x.range()[0] + x.range()[1]) / 2)
    .attr("y", 1257)
    .attr("text-anchor", "middle")
    .attr("font-size", 42)
    .text("MJD");

// calendar strip above the upper panel
const [d0, d1] = x.domain();
const cal = svg.append("g");

const months = [];
calendarYears.forEach(yr => {
    monthLetters.forEach((letter, m) => {
        const a = toMjd(yr, m), b = toMjd(yr, m + 1);
        if (a >= d0 && b <= d1) months.push({ a, b, letter });
    });
});
const seps = Array.from(new Set(months.flatMap(d => [d.a, d.b])));
cal.append("g").selectAll("line")
    .data(seps)
    .join("line")
    .attr("x1", d => x(d)).attr("x2", d => x(d))
    .attr("y1", 32).attr("y2", 56)
    .attr("stroke", "#000").attr("stroke-width", 1);
cal.append("g").selectAll("text")
    .data(months)
    .join("text")
    .attr("transform", d => `translate(${x((d.a + d.b) / 2)},55) scale(0.48,1)`)
    .attr("text-anchor", "middle")
    .attr("font-size", 28)
    .text(d => d.letter);

yearLabels.forEach(yr => {
    const a = Math.max(toMjd(yr, 0), d0), b = Math.min(toMjd(yr + 1, 0), d1);
    const xa = x(a), xb = x(b), cx = (xa + xb) / 2;
    const t = cal.append("text")
        .attr("x", cx).attr("y", 24)
        .attr("text-anchor", "middle")
        .attr("font-size", 22)
        .text(yr);
    const half = t.node().getComputedTextLength() / 2 + 5;
    cal.append("line")
        .attr("x1", cx - half).attr("x2", xa).attr("y1", 16.5).attr("y2", 16.5)
        .attr("stroke", "#000").attr("stroke-width", 1).attr("marker-end", "url(#arrow)");
    cal.append("line")
        .attr("x1", cx + half).attr("x2", xb).attr("y1", 16.5).attr("y2", 16.5)
        .attr("stroke", "#000").attr("stroke-width", 1).attr("marker-end", "url(#arrow)");
    if (toMjd(yr + 1, 0) <= d1) {
        cal.append("line")
            .attr("x1", xb).attr("x2", xb).attr("y1", 6).attr("y2", 28)
            .attr("stroke", "#000").attr("stroke-width", 1);
    }
});
</script>
</body>
</html>
